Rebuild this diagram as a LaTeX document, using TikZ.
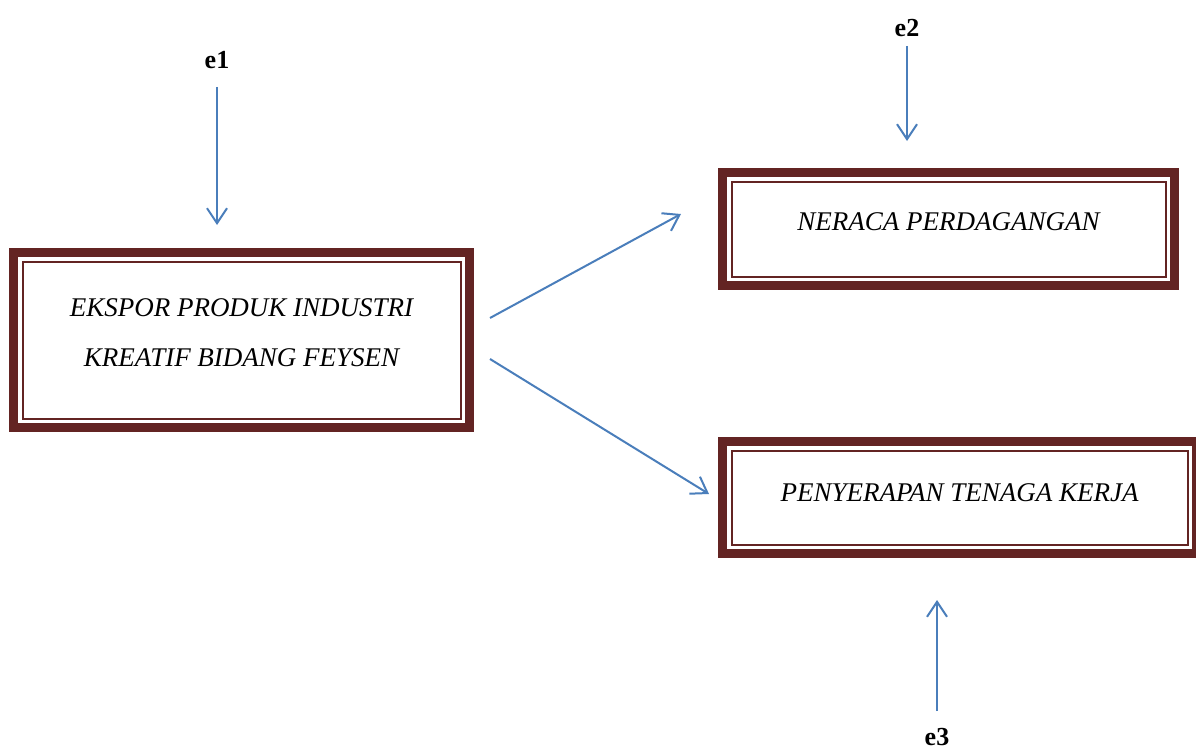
\documentclass[tikz,border=0pt]{standalone}
\usepackage{fontspec}
\setmainfont{Liberation Serif}
\usetikzlibrary{arrows.meta,calc}
\definecolor{frred}{RGB}{99,36,35}
\definecolor{arblue}{RGB}{74,126,187}
\tikzset{
  frbox/.style={draw=frred,line width=9pt,fill=white},
  boxtext/.style={align=center,inner sep=0pt,font=\fontsize{27}{50}\selectfont\itshape},
  elabel/.style={inner sep=0pt,font=\fontsize{26}{28}\selectfont\bfseries},
  arr/.style={draw=arblue,line width=2pt,-{Straight Barb[length=15pt,width=20pt,line width=2pt]}}
}
\newcommand{\fbnode}[5]{\node[frbox,minimum width=#3pt,minimum height=#4pt] (#5) at (#1,#2) {};
	\draw[frred,line width=2pt] ([shift={(13.5pt,13.5pt)}]#5.south west) rectangle ([shift={(-13.5pt,-13.5pt)}]#5.north east);}

\begin{document}
\begin{tikzpicture}[x=1pt,y=-1pt]
	\useasboundingbox (0,0) rectangle (1196,749);
	\fbnode{241.5}{340}{456}{175}{ekspor}
	\fbnode{948.5}{229}{452}{113}{neraca}
	\fbnode{959.5}{497.5}{474}{112}{tenaga}
	\node[boxtext] (ekspor-txt) at ([yshift=7pt]ekspor) {EKSPOR PRODUK INDUSTRI\\KREATIF BIDANG FEYSEN};
	\node[boxtext] (neraca-txt) at ([yshift=7pt]neraca) {NERACA PERDAGANGAN};
	\node[boxtext] (tenaga-txt) at ([yshift=5pt]tenaga) {PENYERAPAN TENAGA KERJA};
	\node[elabel] (e1) at (217,60) {e1};
	\node[elabel] (e2) at (907,28) {e2};
	\node[elabel] (e3) at (937,737) {e3};
	\draw[arr,shorten <=18pt,shorten >=23pt] (e1) -- (e1 |- ekspor.north);
	\draw[arr,shorten <=9pt,shorten >=27pt] (e2) -- (e2 |- neraca.north);
	\draw[arr,shorten <=17pt,shorten >=42pt] (e3) -- (e3 |- tenaga.south);
	\draw[arr] ([shift={(16pt,22pt)}]ekspor.east) -- ([shift={(-37pt,15pt)}]neraca.west);
	\draw[arr] ([shift={(16pt,-19pt)}]ekspor.east) -- ([shift={(-9pt,3.5pt)}]tenaga.west);
\end{tikzpicture}
\end{document}
